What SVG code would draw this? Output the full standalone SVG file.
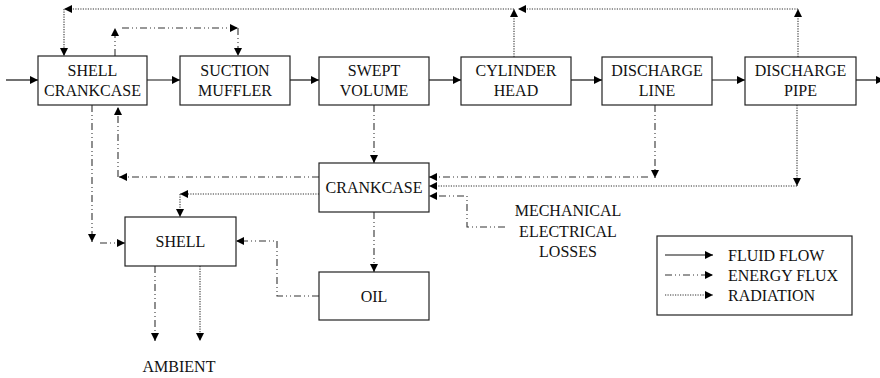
<svg xmlns="http://www.w3.org/2000/svg" width="880" height="378" viewBox="0 0 880 378">
<defs>
<marker id="ah" viewBox="0 0 10 10" refX="10" refY="5" markerWidth="9" markerHeight="8" markerUnits="userSpaceOnUse" orient="auto"><path d="M0,0 L10,5 L0,10 z" fill="#000"/></marker>
</defs>
<style>
.box{fill:#fff;stroke:#222;stroke-width:1.2}
.t{font-size:16px;fill:#111;text-anchor:middle}
.ts{text-anchor:start}
.flow{fill:none;stroke:#111;stroke-width:1.2;marker-end:url(#ah)}
.en{fill:none;stroke:#333;stroke-width:1.1;stroke-dasharray:7 3 1 3 1 3;marker-end:url(#ah)}
.rad{fill:none;stroke:#333;stroke-width:1.1;stroke-dasharray:1.2 1.3;marker-end:url(#ah)}
</style>
<g id="connectors">
<line class="flow" x1="6" y1="80" x2="38" y2="80"/>
<line class="flow" x1="147" y1="80" x2="180" y2="80"/>
<line class="flow" x1="290" y1="80" x2="319" y2="80"/>
<line class="flow" x1="429" y1="80" x2="461" y2="80"/>
<line class="flow" x1="571" y1="80" x2="602" y2="80"/>
<line class="flow" x1="712" y1="80" x2="745" y2="80"/>
<line class="flow" x1="856" y1="80" x2="884" y2="80"/>
<line class="rad" x1="798" y1="57" x2="798" y2="9"/>
<line class="rad" x1="798" y1="9" x2="518" y2="9"/>
<line class="rad" x1="514" y1="57" x2="514" y2="9"/>
<line class="rad" x1="514" y1="9" x2="64" y2="9"/>
<line class="rad" x1="64" y1="9" x2="64" y2="56"/>
<line class="en" x1="115" y1="56" x2="115" y2="28"/>
<line class="en" x1="122" y1="28" x2="238" y2="28"/>
<line class="en" x1="238" y1="28" x2="238" y2="56"/>
<line class="en" x1="374" y1="105" x2="374" y2="163"/>
<line class="en" x1="374" y1="212" x2="374" y2="272"/>
<line class="en" x1="655" y1="105" x2="655" y2="178"/>
<line class="en" x1="648" y1="177" x2="429" y2="177"/>
<line class="en" x1="319" y1="177" x2="119" y2="177"/>
<line class="en" x1="118" y1="177" x2="118" y2="107"/>
<line class="rad" x1="797" y1="105" x2="797" y2="186"/>
<line class="rad" x1="797" y1="186" x2="429" y2="186"/>
<line class="rad" x1="319" y1="194" x2="180" y2="194"/>
<line class="rad" x1="180" y1="194" x2="180" y2="217"/>
<path class="en" d="M505,227 H467 V196 H429"/>
<line class="en" x1="92" y1="105" x2="92" y2="242"/>
<line class="en" x1="100" y1="243" x2="125" y2="243"/>
<path class="en" d="M319,296 H277 V241 H236"/>
<line class="en" x1="155" y1="266" x2="155" y2="341"/>
<line class="rad" x1="200" y1="266" x2="200" y2="341"/>
</g>
<g font-family="Liberation Serif, Tinos, Times New Roman, Noto Serif, FreeSerif, DejaVu Serif, serif">
<g id="shell-crankcase"><rect class="box" x="38" y="56" width="109" height="49"/><text class="t" x="92.5" y="76">SHELL</text><text class="t" x="92.5" y="96">CRANKCASE</text></g>
<g id="suction-muffler"><rect class="box" x="180" y="56" width="110" height="49"/><text class="t" x="235" y="76">SUCTION</text><text class="t" x="235" y="96">MUFFLER</text></g>
<g id="swept-volume"><rect class="box" x="319" y="57" width="110" height="48"/><text class="t" x="374" y="76">SWEPT</text><text class="t" x="374" y="96">VOLUME</text></g>
<g id="cylinder-head"><rect class="box" x="461" y="57" width="110" height="48"/><text class="t" x="516" y="76">CYLINDER</text><text class="t" x="516" y="96">HEAD</text></g>
<g id="discharge-line"><rect class="box" x="602" y="57" width="110" height="48"/><text class="t" x="657" y="76">DISCHARGE</text><text class="t" x="657" y="96">LINE</text></g>
<g id="discharge-pipe"><rect class="box" x="745" y="57" width="111" height="48"/><text class="t" x="800.5" y="76">DISCHARGE</text><text class="t" x="800.5" y="96">PIPE</text></g>
<g id="crankcase"><rect class="box" x="319" y="163" width="110" height="49"/><text class="t" x="374" y="193">CRANKCASE</text></g>
<g id="shell"><rect class="box" x="125" y="217" width="111" height="49"/><text class="t" x="180.5" y="247">SHELL</text></g>
<g id="oil"><rect class="box" x="319" y="272" width="110" height="48"/><text class="t" x="374" y="302">OIL</text></g>
<g id="losses"><text class="t" x="568" y="216">MECHANICAL</text><text class="t" x="568" y="237">ELECTRICAL</text><text class="t" x="568" y="257">LOSSES</text></g>
<g id="ambient"><text class="t" x="179" y="372">AMBIENT</text></g>
<g id="legend">
<rect class="box" x="657" y="236" width="195" height="79"/>
<line class="flow" x1="665" y1="255" x2="713" y2="255"/>
<line class="en" x1="665" y1="275" x2="713" y2="275"/>
<line class="rad" x1="665" y1="295" x2="713" y2="295"/>
<text class="t ts" x="728" y="261">FLUID FLOW</text>
<text class="t ts" x="728" y="281">ENERGY FLUX</text>
<text class="t ts" x="728" y="301">RADIATION</text>
</g>
</g>
</svg>
